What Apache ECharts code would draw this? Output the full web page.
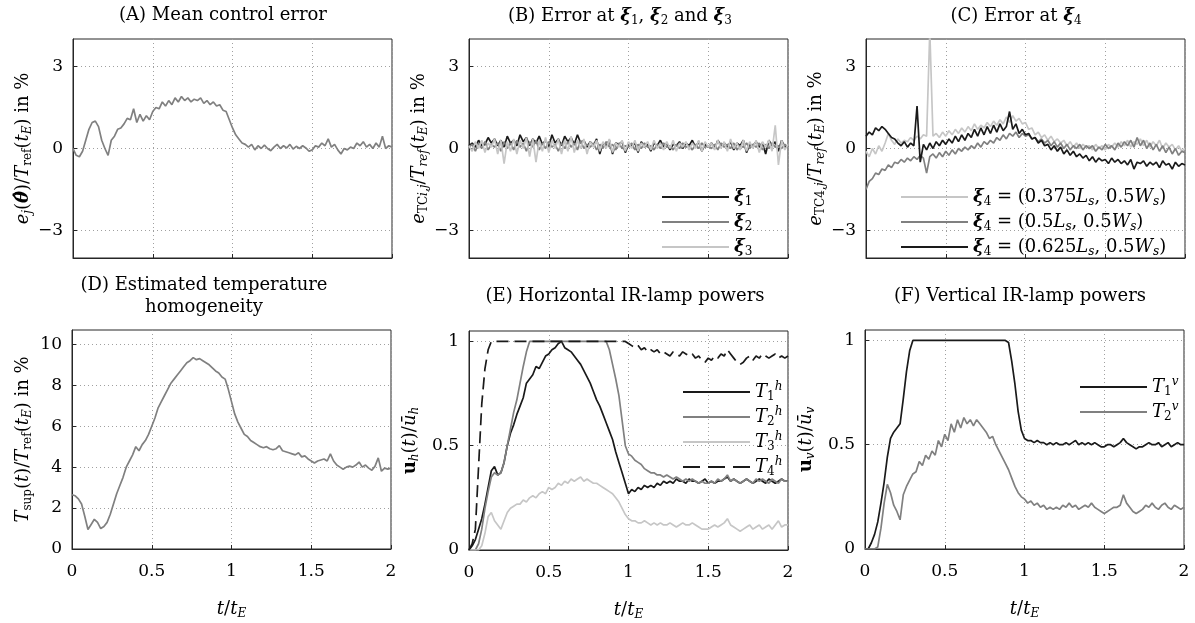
<!DOCTYPE html>
<html>
<head>
<meta charset="utf-8">
<script src="https://cdn.jsdelivr.net/npm/echarts@6/dist/echarts.min.js"></script>
<style>
  html, body { margin: 0; background: #fff; }
  #chart { width: 1195px; height: 623px; }
</style>
</head>
<body>
<div id="chart"></div>
<script>
// every series is sampled on t/t_E = 0, 0.02, ..., 2 (101 samples)
const T_STEP = 0.02

// (A) mean control error in %
const errMean = [
  0, -0.25, -0.3, -0.1, 0.3, 0.7, 0.95, 1.0, 0.8, 0.3,
  0.0, -0.25, 0.3, 0.45, 0.7, 0.75, 0.9, 1.1, 1.05, 1.45,
  0.95, 1.25, 1.0, 1.2, 1.05, 1.35, 1.5, 1.45, 1.7, 1.55,
  1.75, 1.6, 1.85, 1.7, 1.9, 1.75, 1.85, 1.7, 1.8, 1.75,
  1.85, 1.65, 1.75, 1.6, 1.7, 1.55, 1.6, 1.4, 1.35, 1.05,
  0.75, 0.5, 0.35, 0.2, 0.15, 0.05, 0.15, -0.05, 0.1, 0.0,
  0.12, 0.0, -0.08, 0.05, 0.15, 0.0, 0.1, 0.02, 0.15, -0.02,
  0.08, 0.0, 0.1, 0.02, -0.1, -0.05, 0.1, 0.05, 0.2, 0.1,
  0.35, 0.05, 0.15, -0.05, -0.2, 0.0, -0.05, 0.05, 0.0, 0.2,
  0.1, 0.25, 0.05, 0.15, 0.0, 0.2, 0.05, 0.45, 0.0, 0.1,
  0.05
]

// (B) error at xi_1, xi_2, xi_3
const errXi1 = [
  0.1, 0.2, 0.05, 0.3, 0.1, 0.15, 0.4, 0.2, 0.35, 0.1,
  0.3, 0.05, 0.45, 0.2, 0.3, 0.1, 0.5, 0.25, 0.4, 0.1,
  0.35, 0.2, 0.45, 0.15, 0.3, 0.05, 0.5, 0.2, 0.35, 0.1,
  0.45, 0.25, 0.4, 0.15, 0.5, 0.2, 0.3, 0.05, 0.25, 0.1,
  0.35, -0.2, 0.2, 0.1, 0.3, -0.2, 0.2, 0.15, 0.25, -0.15,
  0.15, 0.1, 0.2, -0.15, 0.25, 0.05, 0.15, -0.1, 0.2, 0.1,
  0.3, 0.05, 0.2, -0.05, 0.15, 0.1, 0.25, 0.0, 0.2, 0.1,
  0.3, 0.05, 0.25, -0.1, 0.15, 0.05, 0.2, 0.0, 0.3, 0.1,
  0.2, 0.05, 0.25, -0.05, 0.2, 0.1, 0.3, -0.15, 0.15, 0.1,
  0.25, 0.05, 0.2, -0.2, 0.3, 0.1, 0.25, -0.1, 0.3, 0.05,
  0.1
]
const errXi2 = [
  0.05, 0.15, -0.1, 0.2, 0.0, 0.25, -0.05, 0.15, 0.05, 0.2,
  -0.1, 0.25, 0.0, 0.2, -0.05, 0.3, 0.05, 0.2, -0.1, 0.25,
  0.05, 0.3, -0.05, 0.2, 0.0, 0.25, 0.05, 0.15, -0.1, 0.2,
  0.0, 0.25, 0.05, 0.2, -0.05, 0.3, 0.0, 0.15, 0.05, 0.2,
  -0.05, 0.15, 0.0, 0.25, 0.05, 0.15, -0.05, 0.2, 0.0, 0.1,
  0.05, 0.2, -0.05, 0.15, 0.0, 0.2, 0.05, 0.1, -0.05, 0.15,
  0.0, 0.2, 0.05, 0.1, -0.05, 0.15, 0.0, 0.2, 0.05, 0.1,
  -0.05, 0.15, 0.0, 0.2, 0.05, 0.1, 0.0, 0.15, -0.05, 0.2,
  0.05, 0.15, 0.0, 0.2, -0.05, 0.1, 0.05, 0.2, 0.0, 0.15,
  0.05, 0.2, -0.05, 0.15, 0.0, 0.2, 0.05, 0.1, 0.0, 0.15,
  0.05
]
const errXi3 = [
  0.1, -0.1, 0.25, 0.0, 0.3, -0.15, 0.2, 0.05, 0.35, -0.2,
  0.3, -0.55, 0.25, -0.1, 0.35, -0.2, 0.3, 0.0, 0.4, -0.3,
  0.35, -0.5, 0.3, -0.1, 0.4, -0.15, 0.3, 0.0, 0.35, -0.2,
  0.3, -0.1, 0.45, -0.15, 0.3, 0.0, 0.35, -0.2, 0.25, 0.05,
  0.3, -0.1, 0.25, 0.0, 0.35, -0.15, 0.2, 0.05, 0.3, -0.1,
  0.25, 0.0, 0.3, -0.1, 0.2, 0.05, 0.25, -0.05, 0.3, 0.0,
  0.2, -0.05, 0.25, 0.0, 0.3, -0.1, 0.2, 0.05, 0.25, -0.05,
  0.2, 0.0, 0.3, -0.1, 0.25, 0.05, 0.2, -0.05, 0.3, 0.0,
  0.25, -0.1, 0.35, 0.0, 0.2, -0.05, 0.3, -0.1, 0.25, 0.0,
  0.3, -0.15, 0.25, 0.05, 0.3, -0.1, 0.85, -0.6, 0.3, -0.05,
  0.15
]

// (C) error at xi_4 for three positions
const errC375 = [
  -0.1, -0.3, 0.0, -0.2, 0.1, -0.1, 0.2, 0.55, 0.3, 0.15,
  0.35, 0.2, 0.3, 0.25, 0.4, 0.3, 0.45, 0.35, 0.5, 0.45,
  4.3, 0.45, 0.55, 0.4, 0.6, 0.45, 0.65, 0.5, 0.7, 0.55,
  0.75, 0.6, 0.8, 0.65, 0.9, 0.7, 0.85, 0.75, 0.95, 0.8,
  1.0, 0.85, 1.05, 0.9, 1.15, 0.95, 1.2, 1.0, 1.1, 0.9,
  0.95, 0.7, 0.75, 0.5, 0.6, 0.4, 0.5, 0.3, 0.45, 0.25,
  0.35, 0.2, 0.3, 0.1, 0.25, 0.05, 0.2, 0.0, 0.15, 0.05,
  0.1, -0.05, 0.15, 0.0, 0.1, -0.05, 0.15, 0.05, 0.2, 0.05,
  0.25, 0.1, 0.3, 0.05, 0.25, 0.15, 0.35, 0.1, 0.3, 0.05,
  0.25, 0.1, 0.3, 0.0, 0.2, 0.05, 0.15, -0.05, 0.1, -0.1,
  0.0
]
const errC500 = [
  -1.5, -1.2, -1.1, -0.9, -0.95, -0.75, -0.8, -0.6, -0.7, -0.5,
  -0.55, -0.4, -0.5, -0.35, -0.45, -0.3, -0.4, -0.25, -0.35, -0.9,
  -0.3, -0.2, -0.35, -0.15, -0.3, -0.1, -0.25, -0.05, -0.2, 0.0,
  -0.1, 0.05, -0.05, 0.1, 0.0, 0.2, 0.05, 0.25, 0.15, 0.3,
  0.2, 0.4, 0.3, 0.5, 0.35, 0.55, 0.45, 0.6, 0.4, 0.55,
  0.45, 0.5, 0.35, 0.4, 0.25, 0.35, 0.2, 0.3, 0.1, 0.25,
  0.05, 0.2, 0.0, 0.15, -0.05, 0.1, 0.0, 0.15, -0.05, 0.1,
  0.0, 0.1, -0.1, 0.05, -0.05, 0.15, 0.0, 0.1, -0.05, 0.2,
  0.05, 0.25, 0.1, 0.3, 0.05, 0.4, 0.1, 0.3, 0.0, 0.2,
  -0.05, 0.15, -0.1, 0.1, -0.15, 0.05, -0.2, 0.0, -0.25, -0.1,
  -0.15
]
const errC625 = [
  0.45, 0.6, 0.5, 0.75, 0.65, 0.8, 0.7, 0.55, 0.4, 0.35,
  0.2, 0.1, 0.25, 0.05, 0.2, 0.1, 1.55, -0.5, 0.15, -0.05,
  0.2, 0.0, 0.25, 0.1, 0.3, 0.15, 0.35, 0.2, 0.45, 0.25,
  0.5, 0.3, 0.55, 0.4, 0.7, 0.45, 0.75, 0.5, 0.8, 0.55,
  0.85, 0.6, 0.9, 0.65, 0.8, 1.35, 0.7, 0.9, 0.55, 0.7,
  0.5, 0.55, 0.35, 0.4, 0.2, 0.3, 0.1, 0.15, -0.05, 0.1,
  -0.1, 0.05, -0.2, -0.05, -0.25, -0.1, -0.3, -0.2, -0.35, -0.25,
  -0.45, -0.3, -0.5, -0.35, -0.45, -0.4, -0.55, -0.35, -0.5, -0.4,
  -0.55, -0.45, -0.6, -0.4, -0.75, -0.5, -0.55, -0.45, -0.65, -0.5,
  -0.6, -0.5, -0.7, -0.45, -0.6, -0.55, -0.75, -0.5, -0.65, -0.55,
  -0.6
]

// (D) estimated temperature homogeneity in %
const homog = [
  2.65, 2.6, 2.45, 2.2, 1.6, 0.95, 1.2, 1.45, 1.3, 1.0,
  1.1, 1.3, 1.7, 2.2, 2.7, 3.1, 3.5, 4.0, 4.3, 4.6,
  5.0, 4.8, 5.1, 5.3, 5.6, 6.0, 6.4, 6.9, 7.2, 7.5,
  7.8, 8.1, 8.3, 8.5, 8.7, 8.9, 9.1, 9.2, 9.35, 9.25,
  9.3, 9.2, 9.1, 9.0, 8.85, 8.7, 8.6, 8.4, 8.3, 7.8,
  7.2, 6.6, 6.2, 5.9, 5.6, 5.5, 5.3, 5.2, 5.1, 5.0,
  4.95, 5.0, 4.9, 4.85, 4.9, 5.05, 4.8, 4.75, 4.7, 4.65,
  4.6, 4.7, 4.5, 4.55, 4.4, 4.3, 4.2, 4.3, 4.35, 4.4,
  4.3, 4.65, 4.3, 4.1, 4.0, 3.9, 4.0, 4.05, 4.0, 4.1,
  4.25, 4.0, 4.1, 3.95, 3.85, 4.05, 4.45, 3.8, 3.95, 3.9,
  3.95
]

// (E) horizontal IR-lamp powers
const uh1 = [
  0, 0.02, 0.05, 0.1, 0.15, 0.22, 0.3, 0.38, 0.4, 0.36,
  0.37, 0.42, 0.5, 0.56, 0.6, 0.65, 0.69, 0.73, 0.8, 0.82,
  0.84, 0.88, 0.87, 0.9, 0.93, 0.94, 0.96, 0.97, 0.99, 1.0,
  0.97, 0.96, 0.95, 0.93, 0.91, 0.89, 0.86, 0.83, 0.8, 0.76,
  0.72, 0.69, 0.65, 0.61, 0.57, 0.53, 0.47, 0.42, 0.37, 0.32,
  0.27, 0.29, 0.28, 0.3, 0.29, 0.31, 0.3, 0.31, 0.3, 0.32,
  0.31, 0.33, 0.32, 0.33, 0.32, 0.34, 0.33, 0.33, 0.32, 0.34,
  0.33, 0.33, 0.32, 0.33, 0.34, 0.32, 0.33, 0.32, 0.33, 0.33,
  0.34, 0.35, 0.33, 0.34, 0.33, 0.32, 0.33, 0.34, 0.33, 0.32,
  0.33, 0.34, 0.33, 0.32, 0.34, 0.33, 0.32, 0.33, 0.34, 0.33,
  0.33
]
const uh2 = [
  0, 0, 0, 0.03, 0.1, 0.2, 0.28, 0.35, 0.37, 0.36,
  0.37, 0.42, 0.5, 0.58, 0.66, 0.72, 0.8, 0.88, 0.95, 1.0,
  1, 1, 1, 1, 1, 1, 1, 1, 1, 1,
  1, 1, 1, 1, 1, 1, 1, 1, 1, 1,
  1, 1, 1, 1, 0.96, 0.89, 0.82, 0.74, 0.62, 0.5,
  0.46, 0.45, 0.43, 0.42, 0.41, 0.39, 0.38, 0.37, 0.37, 0.36,
  0.36, 0.35, 0.36, 0.35, 0.34, 0.35, 0.34, 0.33, 0.34, 0.33,
  0.34, 0.33, 0.32, 0.33, 0.32, 0.32, 0.33, 0.32, 0.34, 0.33,
  0.34, 0.36, 0.33, 0.34, 0.33, 0.32, 0.33, 0.34, 0.33, 0.32,
  0.34, 0.33, 0.34, 0.33, 0.32, 0.34, 0.33, 0.32, 0.34, 0.33,
  0.33
]
const uh3 = [
  0, 0, 0, 0, 0.02, 0.08, 0.16, 0.18, 0.14, 0.12,
  0.1, 0.14, 0.18, 0.2, 0.21, 0.22, 0.22, 0.24, 0.23, 0.25,
  0.26, 0.25, 0.27, 0.28, 0.27, 0.3, 0.29, 0.3, 0.32, 0.31,
  0.33, 0.32, 0.34, 0.33, 0.34, 0.35, 0.33, 0.34, 0.33, 0.32,
  0.32, 0.31, 0.3, 0.29, 0.28, 0.27, 0.25, 0.23, 0.2, 0.17,
  0.15, 0.14, 0.14, 0.13, 0.13, 0.14, 0.13, 0.12, 0.13, 0.12,
  0.13, 0.12, 0.12, 0.13, 0.12, 0.11, 0.12, 0.13, 0.12, 0.12,
  0.13, 0.12, 0.11, 0.1, 0.1, 0.1, 0.11, 0.12, 0.11, 0.12,
  0.13, 0.15, 0.12, 0.11, 0.1, 0.09, 0.1, 0.11, 0.12, 0.1,
  0.11, 0.12, 0.1, 0.11, 0.12, 0.1, 0.12, 0.14, 0.11, 0.12,
  0.12
]
const uh4 = [
  0, 0.03, 0.1, 0.4, 0.7, 0.87, 0.96, 1, 1, 1,
  1, 1, 1, 1, 1, 1, 1, 1, 1, 1,
  1, 1, 1, 1, 1, 1, 1, 1, 1, 1,
  1, 1, 1, 1, 1, 1, 1, 1, 1, 1,
  1, 1, 1, 1, 1, 1, 1, 1, 1, 1,
  0.99, 0.98, 0.97, 0.98, 0.96, 0.97, 0.95, 0.96, 0.95, 0.96,
  0.94, 0.95, 0.94, 0.93, 0.95, 0.94, 0.93, 0.95, 0.94, 0.93,
  0.94, 0.92, 0.93, 0.91, 0.9, 0.92, 0.91, 0.93, 0.92, 0.94,
  0.93, 0.96, 0.94, 0.92, 0.9, 0.89, 0.9, 0.92, 0.93, 0.91,
  0.93, 0.92, 0.94, 0.93, 0.92, 0.93, 0.94, 0.92, 0.93, 0.92,
  0.93
]

// (F) vertical IR-lamp powers
const uv1 = [
  0.0, 0.0, 0.03, 0.07, 0.13, 0.22, 0.32, 0.44, 0.53, 0.56,
  0.58, 0.6, 0.72, 0.85, 0.95, 1.0, 1.0, 1.0, 1.0, 1.0,
  1, 1, 1, 1, 1, 1, 1, 1, 1, 1,
  1, 1, 1, 1, 1, 1, 1, 1, 1, 1,
  1.0, 1.0, 1.0, 1.0, 1.0, 0.99, 0.9, 0.79, 0.66, 0.57,
  0.53, 0.52, 0.52, 0.51, 0.52, 0.51, 0.51, 0.5, 0.51, 0.5,
  0.51, 0.5, 0.5, 0.51, 0.5, 0.51, 0.52, 0.5, 0.51, 0.5,
  0.51, 0.5, 0.51, 0.5, 0.49, 0.49, 0.5, 0.5, 0.49, 0.5,
  0.51, 0.53, 0.51, 0.5, 0.49, 0.48, 0.49, 0.49, 0.5, 0.51,
  0.5, 0.5, 0.51, 0.49, 0.5, 0.51, 0.49, 0.5, 0.51, 0.5,
  0.5
]
const uv2 = [
  0, 0, 0, 0, 0.01, 0.1, 0.22, 0.31, 0.27, 0.21,
  0.18, 0.14, 0.26, 0.3, 0.33, 0.36, 0.37, 0.42, 0.4, 0.45,
  0.43, 0.47, 0.45, 0.52, 0.49, 0.55, 0.52, 0.6, 0.56, 0.62,
  0.58, 0.63, 0.6, 0.62, 0.59, 0.62, 0.6, 0.58, 0.56, 0.53,
  0.54, 0.5, 0.47, 0.44, 0.41, 0.38, 0.34, 0.3, 0.27, 0.25,
  0.24, 0.22, 0.23, 0.21, 0.22, 0.2, 0.21, 0.19, 0.2, 0.19,
  0.2, 0.19, 0.21, 0.2, 0.22, 0.2, 0.21, 0.19, 0.2, 0.21,
  0.2, 0.22, 0.2, 0.19, 0.18, 0.17, 0.18, 0.19, 0.2, 0.2,
  0.21, 0.26, 0.22, 0.2, 0.18, 0.17, 0.18, 0.19, 0.21, 0.2,
  0.22, 0.2, 0.19, 0.21, 0.22, 0.2, 0.19, 0.21, 0.2, 0.19,
  0.2
]

const xTicks = [0, 0.5, 1, 1.5, 2]
const errTicks = [-3, 0, 3]
const homogTicks = [0, 2, 4, 6, 8, 10]
const powerTicks = [0, 0.5, 1]

const FONT = "'DejaVu Serif', serif"
const BLACK = '#1a1a1a'
const GRAY = '#808080'
const LIGHT = '#c6c6c6'
const AXIS = '#262626'

const base = { fontFamily: FONT, fontSize: 18, color: '#000', lineHeight: 22 }
const subBase = { fontFamily: FONT, fontSize: 12, color: '#000', lineHeight: 9, verticalAlign: 'bottom' }
const rich = {
  n: base,
  i: Object.assign({}, base, { fontStyle: 'italic' }),
  b: Object.assign({}, base, { fontWeight: 'bold' }),
  xi: Object.assign({}, base, { fontStyle: 'italic', fontWeight: 'bold' }),
  s: subBase,
  si: Object.assign({}, subBase, { fontStyle: 'italic' }),
  pi: Object.assign({}, subBase, { fontStyle: 'italic', verticalAlign: 'top' })
}

const pts = ys => ys.map((y, i) => [+(i * T_STEP).toFixed(2), y])

const boxes = [
  { left: 73, top: 39 }, { left: 469, top: 39 }, { left: 866, top: 39 },
  { left: 72, top: 330 }, { left: 469, top: 331 }, { left: 865, top: 330 }
]

const yNames = [
  '{i|e}{si|j}{n|(}{xi|θ̂}{n|)/}{i|T}{s|ref}{n|(}{i|t}{si|E}{n|) in %}',
  '{i|e}{s|TC}{si|i,j}{n|/}{i|T}{si|ref}{n|(}{i|t}{si|E}{n|) in %}',
  '{i|e}{s|TC4,}{si|j}{n|/}{i|T}{si|ref}{n|(}{i|t}{si|E}{n|) in %}',
  '{i|T}{s|sup}{n|(}{i|t}{n|)/}{i|T}{s|ref}{n|(}{i|t}{si|E}{n|) in %}',
  '{b|u}{si|h}{n|(}{i|t}{n|)/}{i|ū}{si|h}',
  '{b|u}{si|v}{n|(}{i|t}{n|)/}{i|ū}{si|v}'
]
const yRanges = [[-4, 4], [-4, 4], [-4, 4], [0, 10.7], [0, 1.05], [0, 1.05]]
const yTickSets = [errTicks, errTicks, errTicks, homogTicks, powerTicks, powerTicks]
const yNameGaps = [36, 36, 36, 38, 48, 48]

const minus = v => (v < 0 ? '\u2212' + (-v) : String(v))

const grid = boxes.map(b => ({
  left: b.left, top: b.top, width: 319, height: 219,
  show: true, borderColor: AXIS, borderWidth: 1, backgroundColor: 'transparent'
}))

const xAxis = boxes.map((b, i) => ({
  gridIndex: i, type: 'value', min: 0, max: 2, interval: 0.5,
  axisLine: { show: true, onZero: false, lineStyle: { color: AXIS } },
  axisTick: { inside: true, length: 4, lineStyle: { color: AXIS } },
  axisLabel: { show: i >= 3, fontFamily: FONT, fontSize: 17, color: '#000', margin: 14,
    customValues: xTicks, formatter: minus },
  splitLine: { show: true, lineStyle: { color: '#a0a0a0', type: [1, 3] } },
  name: i >= 3 ? '{i|t}{n|/}{i|t}{si|E}' : '',
  nameLocation: 'middle', nameGap: 49, nameTextStyle: { rich }
}))

const yAxis = boxes.map((b, i) => ({
  gridIndex: i, type: 'value', min: yRanges[i][0], max: yRanges[i][1],
  axisLine: { show: true, onZero: false, lineStyle: { color: AXIS } },
  axisTick: { inside: true, length: 4, lineStyle: { color: AXIS }, customValues: yTickSets[i] },
  axisLabel: { fontFamily: FONT, fontSize: 17, color: '#000', margin: 10,
    customValues: yTickSets[i], formatter: minus },
  splitLine: { show: true, lineStyle: { color: '#a0a0a0', type: [1, 3] } },
  name: yNames[i], nameLocation: 'middle', nameGap: yNameGaps[i],
  nameTextStyle: { rich }
}))

function line (name, ys, idx, color, dash) {
  return {
    name, type: 'line', xAxisIndex: idx, yAxisIndex: idx,
    data: pts(ys), symbol: 'none', showSymbol: false, clip: true,
    lineStyle: { color, width: 1.7, type: dash || 'solid' },
    itemStyle: { color }
  }
}

const series = [
  line('meanErr', errMean, 0, GRAY),
  line('xi1', errXi1, 1, BLACK),
  line('xi2', errXi2, 1, GRAY),
  line('xi3', errXi3, 1, LIGHT),
  line('c375', errC375, 2, LIGHT),
  line('c500', errC500, 2, GRAY),
  line('c625', errC625, 2, BLACK),
  line('homog', homog, 3, GRAY),
  line('Th1', uh1, 4, BLACK),
  line('Th2', uh2, 4, GRAY),
  line('Th3', uh3, 4, LIGHT),
  line('Th4', uh4, 4, BLACK, [12, 6]),
  line('Tv1', uv1, 5, BLACK),
  line('Tv2', uv2, 5, GRAY)
]

const legendText = {
  xi1: '{xi|ξ}{s|1}', xi2: '{xi|ξ}{s|2}', xi3: '{xi|ξ}{s|3}',
  c375: '{xi|ξ}{s|4}{n| = (0.375}{i|L}{si|s}{n|, 0.5}{i|W}{si|s}{n|)}',
  c500: '{xi|ξ}{s|4}{n| = (0.5}{i|L}{si|s}{n|, 0.5}{i|W}{si|s}{n|)}',
  c625: '{xi|ξ}{s|4}{n| = (0.625}{i|L}{si|s}{n|, 0.5}{i|W}{si|s}{n|)}',
  Th1: '{i|T}{s|1}{pi|h}', Th2: '{i|T}{s|2}{pi|h}', Th3: '{i|T}{s|3}{pi|h}', Th4: '{i|T}{s|4}{pi|h}',
  Tv1: '{i|T}{s|1}{pi|v}', Tv2: '{i|T}{s|2}{pi|v}'
}
const SOLID_ICON = 'path://M0,0h67v2h-67z'
const DASH_ICON = 'path://M0,0h17v2h-17zM25,0h17v2h-17zM50,0h17v2h-17z'
function legend (names, left, top, gap) {
  return {
    data: names.map(n => ({ name: n, icon: n === 'Th4' ? DASH_ICON : SOLID_ICON })),
    left, top, orient: 'vertical', itemGap: gap,
    itemWidth: 67, itemHeight: 2, symbolKeepAspect: false, selectedMode: false,
    formatter: n => legendText[n], textStyle: { rich }
  }
}

const titles = [
  { x: 223, y: 15, t: '{n|(A) Mean control error}' },
  { x: 620, y: 16, t: '{n|(B) Error at }{xi|ξ}{s|1}{n|, }{xi|ξ}{s|2}{n| and }{xi|ξ}{s|3}' },
  { x: 1016, y: 16, t: '{n|(C) Error at }{xi|ξ}{s|4}' },
  { x: 204, y: 285, t: '{n|(D) Estimated temperature}' },
  { x: 204, y: 307, t: '{n|homogeneity}' },
  { x: 625, y: 296, t: '{n|(E) Horizontal IR-lamp powers}' },
  { x: 1020, y: 296, t: '{n|(F) Vertical IR-lamp powers}' }
]

const chart = echarts.init(document.getElementById('chart'))
chart.setOption({
  animation: false,
  backgroundColor: '#fff',
  grid, xAxis, yAxis, series,
  legend: [
    legend(['xi1', 'xi2', 'xi3'], 657, 183, 5),
    legend(['c375', 'c500', 'c625'], 896, 183, 5),
    legend(['Th1', 'Th2', 'Th3', 'Th4'], 678, 376, 3),
    legend(['Tv1', 'Tv2'], 1075, 371, 3)
  ],
  graphic: titles.map(t => ({
    type: 'text', x: t.x, y: t.y,
    style: { text: t.t, rich, align: 'center', verticalAlign: 'middle' }
  }))
})
</script>
</body>
</html>
